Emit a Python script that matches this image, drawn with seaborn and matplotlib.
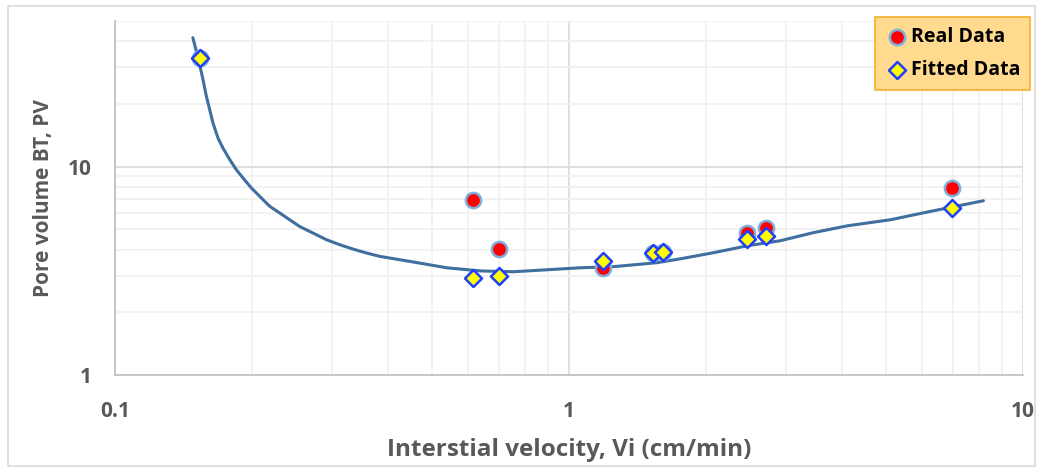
import numpy as np
import pandas as pd
import matplotlib
matplotlib.use("Agg")
import matplotlib.pyplot as plt
import seaborn as sns
from matplotlib.ticker import LogLocator, FixedLocator, NullFormatter
from matplotlib.patches import Rectangle

# --- DATA ---
real_vi = [0.154, 0.614, 0.701, 1.189, 1.53, 1.61, 2.47, 2.72, 6.99]
real_pv = [33.4, 6.94, 4.03, 3.27, 3.86, 3.90, 4.82, 5.09, 7.93]

fit_vi = [0.154, 0.614, 0.701, 1.189, 1.53, 1.61, 2.47, 2.72, 6.99]
fit_pv = [33.4, 2.93, 2.99, 3.53, 3.86, 3.90, 4.51, 4.66, 6.35]

# fitted trend line, traced point by point
curve_vi = [0.1484, 0.1510, 0.1536, 0.1562, 0.1589, 0.1616, 0.1643, 0.1685,
            0.1728, 0.1789, 0.1850, 0.1913, 0.1997, 0.2083, 0.2192, 0.2306,
            0.2425, 0.2551, 0.2730, 0.2922, 0.3126, 0.3345, 0.3580, 0.3830,
            0.4529, 0.5383, 0.6364, 0.7524, 0.8943, 1.057, 1.250, 1.563,
            1.757, 2.077, 2.469, 2.920, 3.451, 4.102, 5.104, 6.349, 8.183]
curve_pv = [41.57, 35.84, 30.94, 26.20, 21.78, 18.79, 16.23, 13.74,
            12.30, 10.81, 9.67, 8.83, 7.90, 7.20, 6.45, 5.99,
            5.56, 5.16, 4.80, 4.46, 4.22, 4.02, 3.85, 3.71,
            3.49, 3.27, 3.16, 3.13, 3.20, 3.27, 3.31, 3.46,
            3.61, 3.86, 4.17, 4.41, 4.82, 5.20, 5.56, 6.14, 6.86]

x_ticks = [0.1, 1, 10]
x_tick_labels = ["0.1", "1", "10"]
y_ticks = [1, 10]
y_tick_labels = ["1", "10"]

df_real = pd.DataFrame({"vi": real_vi, "pv": real_pv})
df_fit = pd.DataFrame({"vi": fit_vi, "pv": fit_pv})
df_curve = pd.DataFrame({"vi": curve_vi, "pv": curve_pv})

# --- STYLE ---
sns.set_style("white")
plt.rcParams['font.family'] = ['Open Sans', 'DejaVu Sans']
GREY = "#595959"

fig = plt.figure(figsize=(10.43, 4.69), dpi=100)
ax = fig.add_axes([0.1103, 0.2004, 0.8705, 0.7548])

# chart border
fig.patches.append(Rectangle((8 / 1043, 3 / 469), 1 - 16 / 1043, 1 - 9 / 469,
                             transform=fig.transFigure, fill=False,
                             edgecolor="#D9D9D9", lw=1.2, zorder=0))

ax.set_xscale("log")
ax.set_yscale("log")
ax.set_xlim(0.1, 10)
ax.set_ylim(1, 50)

# grids
ax.xaxis.set_minor_locator(LogLocator(base=10, subs=np.arange(2, 10)))
ax.yaxis.set_minor_locator(LogLocator(base=10, subs=np.arange(2, 10)))
ax.xaxis.set_minor_formatter(NullFormatter())
ax.yaxis.set_minor_formatter(NullFormatter())
ax.grid(which="major", color="#D9D9D9", lw=1.2, zorder=0)
ax.grid(which="minor", color="#F0F0F0", lw=1.2, zorder=0)
ax.set_axisbelow(True)

sns.lineplot(data=df_curve, x="vi", y="pv", sort=False, ax=ax,
             color="#3F6F9F", lw=2.2, zorder=2)
sns.scatterplot(data=df_real, x="vi", y="pv", ax=ax, marker="o", s=120,
                color="#FF0000", edgecolor="#7FAEDB", linewidth=1.8,
                label="Real Data", zorder=3)
sns.scatterplot(data=df_fit, x="vi", y="pv", ax=ax, marker="D", s=75,
                color="#FFFF00", edgecolor="#1F3FFF", linewidth=1.8,
                label="Fitted Data", zorder=4)

ax.xaxis.set_major_locator(FixedLocator(x_ticks))
ax.yaxis.set_major_locator(FixedLocator(y_ticks))
ax.set_xticklabels(x_tick_labels)
ax.set_yticklabels(y_tick_labels)
ax.tick_params(axis="both", which="major", length=8, width=1.2, color="#BFBFBF",
               labelsize=15, labelcolor=GREY, direction="out")
ax.tick_params(axis="x", pad=11)
ax.tick_params(axis="y", pad=9)
ax.tick_params(which="minor", length=0)
for lab in ax.get_xticklabels() + ax.get_yticklabels():
    lab.set_fontweight("bold")

for side in ["top", "right"]:
    ax.spines[side].set_visible(False)
for side in ["left", "bottom"]:
    ax.spines[side].set_color("#BFBFBF")
    ax.spines[side].set_linewidth(1.2)

ax.set_xlabel("Interstial velocity, Vi (cm/min)", fontsize=17.5, fontweight="bold",
              color=GREY, labelpad=11)
ax.set_ylabel("Pore volume BT, PV", fontsize=15, fontweight="bold",
              color=GREY, labelpad=10)

leg = ax.legend(loc="upper right", bbox_to_anchor=(1.0077, 1.011), frameon=True,
                fancybox=False, fontsize=14, handletextpad=0.05,
                borderpad=0.5, labelspacing=0.7, handlelength=1.3,
                borderaxespad=0.0)
leg.get_frame().set_facecolor("#FFDA8F")
leg.get_frame().set_edgecolor("#F2B32A")
leg.get_frame().set_linewidth(1.2)
leg.get_frame().set_alpha(1)
for t in leg.get_texts():
    t.set_fontweight("bold")
    t.set_color("black")

fig.savefig("out.png", dpi=100)
